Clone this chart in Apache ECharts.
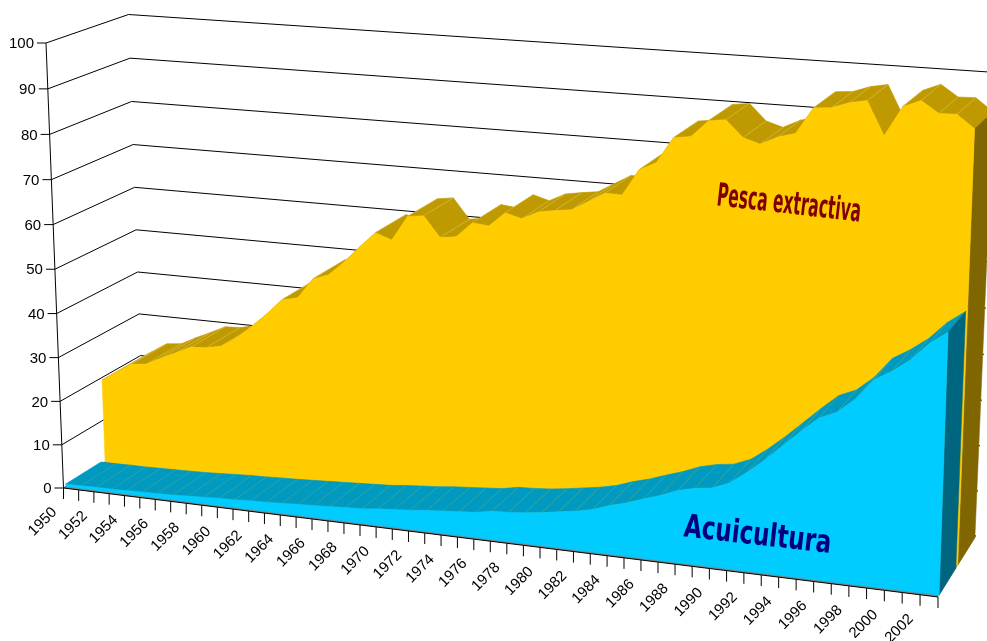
<!DOCTYPE html>
<html>
<head>
<meta charset="utf-8">
<style>html,body{margin:0;padding:0;background:#fff}#c{width:987px;height:641px}</style>
<script src="https://cdn.jsdelivr.net/npm/echarts@6/dist/echarts.min.js"></script>
</head>
<body>
<div id="c"></div>
<script>
const years = [1950,1951,1952,1953,1954,1955,1956,1957,1958,1959,1960,1961,1962,1963,1964,1965,1966,1967,1968,1969,1970,1971,1972,1973,1974,1975,1976,1977,1978,1979,1980,1981,1982,1983,1984,1985,1986,1987,1988,1989,1990,1991,1992,1993,1994,1995,1996,1997,1998,1999,2000,2001,2002,2003];
const pescaExtractiva = [19.4,21.7,23.9,24.3,26.1,27.7,29.4,29.6,30.4,32.7,35.6,38.8,42.4,43.2,47.8,49.1,52.3,56.0,59.5,58.2,63.7,64.2,59.7,60.2,63.6,63.2,66.4,65.4,67.2,67.8,68.3,70.4,72.5,72.4,78.1,79.9,85.5,86.0,89.6,90.1,86.6,85.5,87.3,88.3,93.9,94.2,95.5,96.2,89.2,95.5,97.0,94.6,94.7,92.0];
const acuicultura = [0.6,0.6,0.7,0.7,0.8,0.9,1.0,1.1,1.3,1.5,1.7,1.8,2.0,2.1,2.3,2.5,2.7,2.9,3.1,3.3,3.7,4.0,4.3,4.7,5.0,5.3,5.6,6.3,6.5,6.8,7.3,7.9,8.5,9.3,10.6,11.6,12.9,14.1,15.6,16.5,17.0,18.5,21.2,24.3,27.7,31.1,34.3,35.9,39.0,43.4,45.6,48.3,52.0,54.7];
const valueTicks = [0,10,20,30,40,50,60,70,80,90,100];
const nombreAcuicultura = 'Acuicultura';
const nombrePesca = 'Pesca extractiva';

// camera: eight corners of the plot box on screen
const C = {
  '000':[63.5,488],'100':[938,597],'010':[46,43],'110':[954.5,108],
  '001':[143.5,438],'101':[976,536],'011':[128.5,14.5],'111':[996,72.5]
};
const KU=0.918, KV=0.967;
const warp=(t,k)=>k*t/(1+(k-1)*t);
function tri(u,v,w,a){
  const g=(i,j,l)=>C[''+i+j+l][a];
  const f0=g(0,0,0)*(1-u)+g(1,0,0)*u, f1=g(0,1,0)*(1-u)+g(1,1,0)*u;
  const b0=g(0,0,1)*(1-u)+g(1,0,1)*u, b1=g(0,1,1)*(1-u)+g(1,1,1)*u;
  const f=f0*(1-v)+f1*v, b=b0*(1-v)+b1*v;
  return f*(1-w)+b*w;
}
// value -> axis pixel (library scale) -> perspective box
function P(api,params,year,val,w){
  const p=api.coord([year,val]), r=params.coordSys;
  const u=warp((p[0]-r.x)/r.width,KU), v=warp(1-(p[1]-r.y)/r.height,KV);
  return [tri(u,v,w,0),tri(u,v,w,1)];
}
const band=(vals,w0,w1,cap,side,front,seam)=>{
  const n=years.length;
  const capSeries={type:'custom',coordinateSystem:'cartesian2d',silent:true,animation:false,clip:false,
    encode:{x:0,y:1},data:years.map((y,i)=>[y,vals[i]]),
    renderItem(params,api){
      const i=params.dataIndex, kids=[];
      const a=P(api,params,years[i],vals[i],w0), b=P(api,params,years[i],vals[i],w1);
      if(i<n-1){
        const c=P(api,params,years[i+1],vals[i+1],w1), d=P(api,params,years[i+1],vals[i+1],w0);
        kids.push({type:'polygon',shape:{points:[a,b,c,d]},style:{fill:cap,stroke:cap,lineWidth:0.6}});
      }
      if(i>0&&i<n-1) kids.push({type:'line',shape:{x1:a[0],y1:a[1],x2:b[0],y2:b[1]},style:{stroke:seam,lineWidth:0.6}});
      return {type:'group',children:kids};
    }};
  const faceSeries={type:'custom',coordinateSystem:'cartesian2d',silent:true,animation:false,clip:false,
    encode:{x:0,y:1},data:years.map((y,i)=>[y,vals[i]]),
    renderItem(params,api){
      if(params.dataIndex!==n-1) return {type:'group',children:[]};
      const pts=years.map((y,i)=>P(api,params,y,vals[i],w0));
      const f=[P(api,params,years[0],0,w0),...pts,P(api,params,years[n-1],0,w0)];
      const s=[P(api,params,years[n-1],0,w0),P(api,params,years[n-1],vals[n-1],w0),P(api,params,years[n-1],vals[n-1],w1),P(api,params,years[n-1],0,w1)];
      return {type:'group',children:[
        {type:'polygon',shape:{points:s},style:{fill:side,stroke:side,lineWidth:0.5}},
        {type:'polygon',shape:{points:f},style:{fill:front,stroke:front,lineWidth:0.5}}
      ]};
    }};
  return [capSeries,faceSeries];
};
const wallSeries={type:'custom',coordinateSystem:'cartesian2d',silent:true,animation:false,clip:false,
  encode:{x:0,y:1},data:valueTicks.map(v=>[years[0],v]),
  renderItem(params,api){
    const v=valueTicks[params.dataIndex], y0=years[0], y1=years[years.length-1];
    const a=P(api,params,y0,v,0), b=P(api,params,y0,v,1), c=P(api,params,y1,v,1);
    const kids=[
      {type:'polyline',shape:{points:[a,b,c]},style:{stroke:'#000',lineWidth:1,fill:null}},
      {type:'line',shape:{x1:a[0]-9,y1:a[1],x2:a[0],y2:a[1]},style:{stroke:'#000',lineWidth:1}},
      {type:'text',x:a[0]-12,y:a[1]+1,style:{text:String(v),align:'right',verticalAlign:'middle',font:'15px "Liberation Sans"',fill:'#000'}}
    ];
    if(v===100){const o=P(api,params,y0,0,0);kids.push({type:'line',shape:{x1:a[0],y1:a[1],x2:o[0],y2:o[1]},style:{stroke:'#000',lineWidth:1}});}
    return {type:'group',children:kids};
  }};
const floorSeries={type:'custom',coordinateSystem:'cartesian2d',silent:true,animation:false,clip:false,
  encode:{x:0,y:1},data:[[years[0],0]],
  renderItem(params,api){
    const y0=years[0], y1=years[years.length-1];
    const pts=[P(api,params,y0,0,0),P(api,params,y0,0,1),P(api,params,y1,0,1),P(api,params,y1,0,0)];
    return {type:'polygon',shape:{points:pts},style:{fill:'#808080'}};
  }};
const xAxisSeries={type:'custom',coordinateSystem:'cartesian2d',silent:true,animation:false,clip:false,
  encode:{x:0,y:1},data:years.map(y=>[y,0]),
  renderItem(params,api){
    const i=params.dataIndex, a=P(api,params,years[i],0,0), kids=[
      {type:'line',shape:{x1:a[0],y1:a[1],x2:a[0],y2:a[1]+11},style:{stroke:'#000',lineWidth:1}}];
    if(i<years.length-1){const b=P(api,params,years[i+1],0,0);kids.push({type:'line',shape:{x1:a[0],y1:a[1],x2:b[0],y2:b[1]},style:{stroke:'#000',lineWidth:1}});}
    if(i%2===0&&i<years.length-1) kids.push({type:'text',x:a[0]-9,y:a[1]+22,rotation:Math.PI/4,
      style:{text:String(years[i]),align:'right',verticalAlign:'middle',font:'15px "Liberation Sans"',fill:'#000'}});
    return {type:'group',children:kids};
  }};
const yellow=band(pescaExtractiva,0.52,0.97,'#BF9900','#806600','#FFCC00','rgba(255,235,150,0.45)');
const blue=band(acuicultura,0.03,0.47,'#0099BF','#006680','#00CCFF','rgba(170,200,110,0.4)');
const stack=[wallSeries,floorSeries,xAxisSeries,...yellow,...blue];
stack.forEach((s,i)=>{s.z=i+1;});
const chart=echarts.init(document.getElementById('c'),null,{renderer:'canvas',width:987,height:641});
chart.setOption({
  animation:false,backgroundColor:'#fff',
  grid:{left:0,right:0,top:0,bottom:0,containLabel:false},
  xAxis:{type:'value',min:1950,max:2003,show:false},
  yAxis:{type:'value',min:0,max:100,interval:10,show:false},
  series:stack,
  graphic:[
    {type:'text',z:50,x:717,y:197,rotation:-6.5*Math.PI/180,scaleX:0.485,
      style:{text:nombrePesca,align:'left',verticalAlign:'middle',font:'bold 32px "DejaVu Sans"',fill:'#800000'}},
    {type:'text',z:50,x:684,y:528,rotation:-6.5*Math.PI/180,scaleX:0.72,
      style:{text:nombreAcuicultura,align:'left',verticalAlign:'middle',font:'bold 32px "DejaVu Sans"',fill:'#000080'}}
  ]
});
</script>
</body>
</html>
